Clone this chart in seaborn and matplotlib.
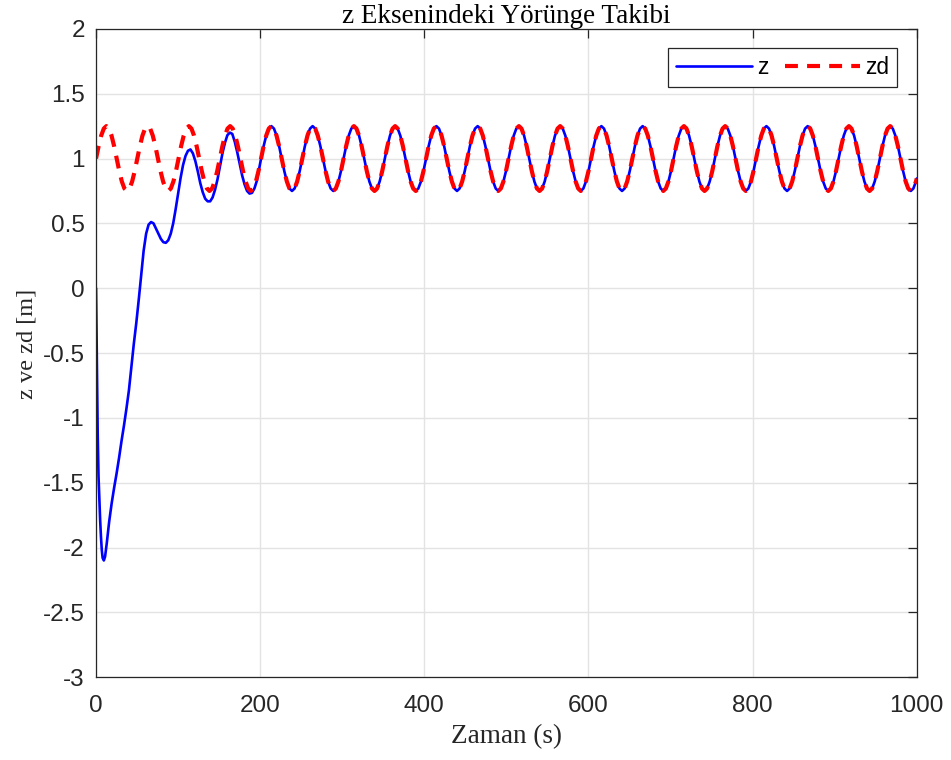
import numpy as np
import pandas as pd
import matplotlib
matplotlib.use("Agg")
import matplotlib.pyplot as plt
import seaborn as sns

# ---------------- data ----------------
title = "z Eksenindeki Yörünge Takibi"
xlabel = "Zaman (s)"
ylabel = "z ve zd [m]"
series_names = ["z", "zd"]

x_ticks = [0, 200, 400, 600, 800, 1000]
y_ticks = [-3, -2.5, -2, -1.5, -1, -0.5, 0, 0.5, 1, 1.5, 2]

# desired trajectory zd, sampled every pi seconds (k*pi, k = 0..318) plus t = 1000
zd_values = [
    1.000, 1.096, 1.177, 1.231, 1.250, 1.231, 1.177, 1.096, 1.000, 0.904, 0.823, 0.769, 0.750, 0.769, 0.823, 0.904,
    1.000, 1.096, 1.177, 1.231, 1.250, 1.231, 1.177, 1.096, 1.000, 0.904, 0.823, 0.769, 0.750, 0.769, 0.823, 0.904,
    1.000, 1.096, 1.177, 1.231, 1.250, 1.231, 1.177, 1.096, 1.000, 0.904, 0.823, 0.769, 0.750, 0.769, 0.823, 0.904,
    1.000, 1.096, 1.177, 1.231, 1.250, 1.231, 1.177, 1.096, 1.000, 0.904, 0.823, 0.769, 0.750, 0.769, 0.823, 0.904,
    1.000, 1.096, 1.177, 1.231, 1.250, 1.231, 1.177, 1.096, 1.000, 0.904, 0.823, 0.769, 0.750, 0.769, 0.823, 0.904,
    1.000, 1.096, 1.177, 1.231, 1.250, 1.231, 1.177, 1.096, 1.000, 0.904, 0.823, 0.769, 0.750, 0.769, 0.823, 0.904,
    1.000, 1.096, 1.177, 1.231, 1.250, 1.231, 1.177, 1.096, 1.000, 0.904, 0.823, 0.769, 0.750, 0.769, 0.823, 0.904,
    1.000, 1.096, 1.177, 1.231, 1.250, 1.231, 1.177, 1.096, 1.000, 0.904, 0.823, 0.769, 0.750, 0.769, 0.823, 0.904,
    1.000, 1.096, 1.177, 1.231, 1.250, 1.231, 1.177, 1.096, 1.000, 0.904, 0.823, 0.769, 0.750, 0.769, 0.823, 0.904,
    1.000, 1.096, 1.177, 1.231, 1.250, 1.231, 1.177, 1.096, 1.000, 0.904, 0.823, 0.769, 0.750, 0.769, 0.823, 0.904,
    1.000, 1.096, 1.177, 1.231, 1.250, 1.231, 1.177, 1.096, 1.000, 0.904, 0.823, 0.769, 0.750, 0.769, 0.823, 0.904,
    1.000, 1.096, 1.177, 1.231, 1.250, 1.231, 1.177, 1.096, 1.000, 0.904, 0.823, 0.769, 0.750, 0.769, 0.823, 0.904,
    1.000, 1.096, 1.177, 1.231, 1.250, 1.231, 1.177, 1.096, 1.000, 0.904, 0.823, 0.769, 0.750, 0.769, 0.823, 0.904,
    1.000, 1.096, 1.177, 1.231, 1.250, 1.231, 1.177, 1.096, 1.000, 0.904, 0.823, 0.769, 0.750, 0.769, 0.823, 0.904,
    1.000, 1.096, 1.177, 1.231, 1.250, 1.231, 1.177, 1.096, 1.000, 0.904, 0.823, 0.769, 0.750, 0.769, 0.823, 0.904,
    1.000, 1.096, 1.177, 1.231, 1.250, 1.231, 1.177, 1.096, 1.000, 0.904, 0.823, 0.769, 0.750, 0.769, 0.823, 0.904,
    1.000, 1.096, 1.177, 1.231, 1.250, 1.231, 1.177, 1.096, 1.000, 0.904, 0.823, 0.769, 0.750, 0.769, 0.823, 0.904,
    1.000, 1.096, 1.177, 1.231, 1.250, 1.231, 1.177, 1.096, 1.000, 0.904, 0.823, 0.769, 0.750, 0.769, 0.823, 0.904,
    1.000, 1.096, 1.177, 1.231, 1.250, 1.231, 1.177, 1.096, 1.000, 0.904, 0.823, 0.769, 0.750, 0.769, 0.823, 0.904,
    1.000, 1.096, 1.177, 1.231, 1.250, 1.231, 1.177, 1.096, 1.000, 0.904, 0.823, 0.769, 0.750, 0.769, 0.823,
    0.846,
]
zd_time = list(np.arange(319) * np.pi) + [1000.0]

# actual trajectory z: transient part (t < 200 s); afterwards it follows zd
z_trans_time = [0, 1, 2, 3, 4, 5, 6, 7, 8, 9.5, 11, 13, 16, 19, 22, 25, 28, 31, 34, 37,
                40, 43, 46, 49, 52, 55, 58, 61, 64, 67, 70, 73, 76, 79, 82, 85, 88, 91,
                94, 97, 100, 103, 106, 109, 112, 115, 118, 121, 124, 127, 130, 133, 136,
                139, 142, 145, 148, 151, 154, 157, 160, 163, 166, 169, 172, 175, 178, 181,
                184, 187, 190, 193, 196, 199]
z_trans_values = [0.00, -0.60, -1.12, -1.45, -1.63, -1.79, -1.92, -2.02, -2.08, -2.10,
                  -2.07, -1.97, -1.80, -1.66, -1.54, -1.43, -1.31, -1.18, -1.06, -0.93,
                  -0.79, -0.61, -0.43, -0.27, -0.09, 0.10, 0.29, 0.42, 0.49, 0.51,
                  0.50, 0.46, 0.42, 0.38, 0.355, 0.35, 0.37, 0.42, 0.50, 0.61,
                  0.73, 0.85, 0.95, 1.02, 1.06, 1.07, 1.04, 0.98, 0.90, 0.81,
                  0.74, 0.69, 0.67, 0.67, 0.70, 0.76, 0.84, 0.94, 1.04, 1.12,
                  1.18, 1.20, 1.19, 1.13, 1.05, 0.96, 0.87, 0.80, 0.75, 0.73,
                  0.735, 0.77, 0.83, 0.93]
z_follow_start = 200.0

# ---------------- build tables ----------------
df_zd = pd.DataFrame({"t": zd_time, "v": zd_values})
tail = df_zd[df_zd["t"] > z_follow_start]
df_z = pd.concat([pd.DataFrame({"t": z_trans_time, "v": z_trans_values}), tail],
                 ignore_index=True)

# ---------------- style ----------------
sns.set_theme(style="white")
plt.rcParams["font.family"] = ["Liberation Sans", "DejaVu Sans"]
plt.rcParams["axes.unicode_minus"] = False

fig = plt.figure(figsize=(9.51, 7.6), dpi=100)
ax = fig.add_axes([0.101, 0.109, 0.863, 0.853])

sns.lineplot(data=df_z, x="t", y="v", ax=ax, color="#0000ff", linewidth=1.9,
             label=series_names[0], estimator=None, sort=False)
sns.lineplot(data=df_zd, x="t", y="v", ax=ax, color="#ff0000", linewidth=3.0,
             label=series_names[1], estimator=None, sort=False, linestyle="--")
ax.lines[1].set_dashes([3.1, 2.2])

ax.set_xlim(0, 1000)
ax.set_ylim(-3, 2)
ax.set_xticks(x_ticks)
ax.set_xticklabels([f"{v:g}" for v in x_ticks])
ax.set_yticks(y_ticks)
ax.set_yticklabels([f"{v:g}" for v in y_ticks])

ax.grid(True, color="#e3e3e3", linewidth=1.0)
ax.set_axisbelow(True)
for s in ax.spines.values():
    s.set_color("#262626")
    s.set_linewidth(0.9)
ax.tick_params(axis="both", direction="in", length=6.5, width=0.9, top=True,
               right=True, labelsize=17.5, colors="#262626", labelcolor="#262626")
ax.tick_params(axis="x", pad=13)
ax.tick_params(axis="y", pad=8)

serif = ["Liberation Serif", "DejaVu Serif"]
ax.set_title(title, family=serif, fontsize=19.5, pad=4, color="black")
ax.set_xlabel(xlabel, family=serif, fontsize=19.5, labelpad=5, color="#262626")
ax.set_ylabel(ylabel, family=serif, fontsize=17.5, labelpad=7, color="#262626")
ax.yaxis.set_label_coords(-0.071, 0.514)

leg = ax.legend(loc="upper right", ncol=2, fontsize=16.4, frameon=True,
                fancybox=False, edgecolor="#262626", framealpha=1,
                handlelength=3.3, handletextpad=0.25, columnspacing=0.7,
                borderaxespad=0.85, borderpad=0.35)
leg.get_frame().set_linewidth(0.9)
for t in leg.get_texts():
    t.set_color("black")

fig.savefig("out.png", dpi=100)
